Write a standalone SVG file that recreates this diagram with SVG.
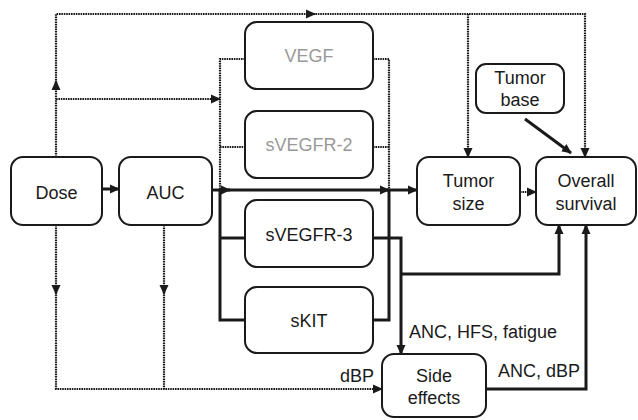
<svg xmlns="http://www.w3.org/2000/svg" width="638" height="420" viewBox="0 0 638 420">
<style>
.box{fill:#fff;stroke:#1a1a1a;stroke-width:2}
.t{font-family:"Liberation Sans",Arial,sans-serif;font-size:18px;fill:#1a1a1a;text-anchor:middle}
.g{fill:#999}
.lbl{font-family:"Liberation Sans",Arial,sans-serif;font-size:18px;fill:#1a1a1a}
.s{fill:none;stroke:#1a1a1a;stroke-width:3}
.d{fill:none;stroke:#1a1a1a;stroke-width:2.2;stroke-dasharray:1.6 0.8}
</style>
<defs>
<marker id="ah" markerUnits="userSpaceOnUse" markerWidth="12" markerHeight="10" refX="9" refY="5" orient="auto">
<path d="M0,0.5 L10,5 L0,9.5 z" fill="#1a1a1a"/>
</marker>
</defs>
<g id="connectors">
<!-- dotted -->
<path class="d" d="M56,157 V81" marker-end="url(#ah)"/>
<path class="d" d="M56,83 V14 H315" marker-end="url(#ah)"/>
<path class="d" d="M313,14 H585 V157" marker-end="url(#ah)"/>
<path class="d" d="M468,14 V157" marker-end="url(#ah)"/>
<path class="d" d="M56,99 H220" marker-end="url(#ah)"/>
<path class="d" d="M245,59 H220 V190"/>
<path class="d" d="M220,147 H245"/>
<path class="d" d="M373,59 H389 V190"/>
<path class="d" d="M373,147 H389"/>
<path class="d" d="M520,192 H536" marker-end="url(#ah)"/>
<path class="d" d="M56,225 V294" marker-end="url(#ah)"/>
<path class="d" d="M56,292 V389 H382" marker-end="url(#ah)"/>
<path class="d" d="M164,225 V294" marker-end="url(#ah)"/>
<path class="d" d="M164,292 V389"/>
<!-- solid -->
<path class="s" d="M102,189 H119" marker-end="url(#ah)"/>
<path class="s" d="M212,190 H230" marker-end="url(#ah)"/>
<path class="s" d="M228,190 H389" marker-end="url(#ah)"/>
<path class="s" d="M387,190 H417" marker-end="url(#ah)"/>
<path class="s" d="M220,190 V320 H245"/>
<path class="s" d="M220,238 H245"/>
<path class="s" d="M373,320 H389 V190"/>
<path class="s" d="M373,238 H401 V354" marker-end="url(#ah)"/>
<path class="s" d="M401,274 H559 V225" marker-end="url(#ah)"/>
<path class="s" d="M486,389 H586 V225" marker-end="url(#ah)"/>
<path class="s" d="M525,119 L571,153" marker-end="url(#ah)"/>
</g>
<g id="n-dose"><rect class="box" x="11" y="157" width="91" height="68" rx="12"/><text class="t" x="56.5" y="199">Dose</text></g>
<g id="n-auc"><rect class="box" x="119" y="157" width="93" height="68" rx="12"/><text class="t" x="165.5" y="199">AUC</text></g>
<g id="n-vegf"><rect class="box" x="245" y="22" width="128" height="67" rx="12"/><text class="t g" x="309" y="62">VEGF</text></g>
<g id="n-svegfr2"><rect class="box" x="245" y="111" width="128" height="67" rx="12"/><text class="t g" x="309" y="151">sVEGFR-2</text></g>
<g id="n-svegfr3"><rect class="box" x="245" y="200" width="128" height="67" rx="12"/><text class="t" x="309" y="241">sVEGFR-3</text></g>
<g id="n-skit"><rect class="box" x="245" y="287" width="128" height="66" rx="12"/><text class="t" x="309" y="327">sKIT</text></g>
<g id="n-tumorsize"><rect class="box" x="417" y="157" width="103" height="68" rx="12"/><text class="t" x="468.5" y="187">Tumor</text><text class="t" x="468.5" y="210">size</text></g>
<g id="n-os"><rect class="box" x="536" y="157" width="100" height="68" rx="12"/><text class="t" x="586" y="187">Overall</text><text class="t" x="586" y="210">survival</text></g>
<g id="n-tumorbase"><rect class="box" x="476" y="64" width="88" height="49" rx="10"/><text class="t" x="520" y="84">Tumor</text><text class="t" x="520" y="106">base</text></g>
<g id="n-side"><rect class="box" x="382" y="354" width="104" height="63" rx="12"/><text class="t" x="434" y="382">Side</text><text class="t" x="434" y="404">effects</text></g>
<g id="labels">
<text class="lbl" x="409" y="338">ANC, HFS, fatigue</text>
<text class="lbl" x="340" y="382">dBP</text>
<text class="lbl" x="498" y="377">ANC, dBP</text>
</g>
</svg>
